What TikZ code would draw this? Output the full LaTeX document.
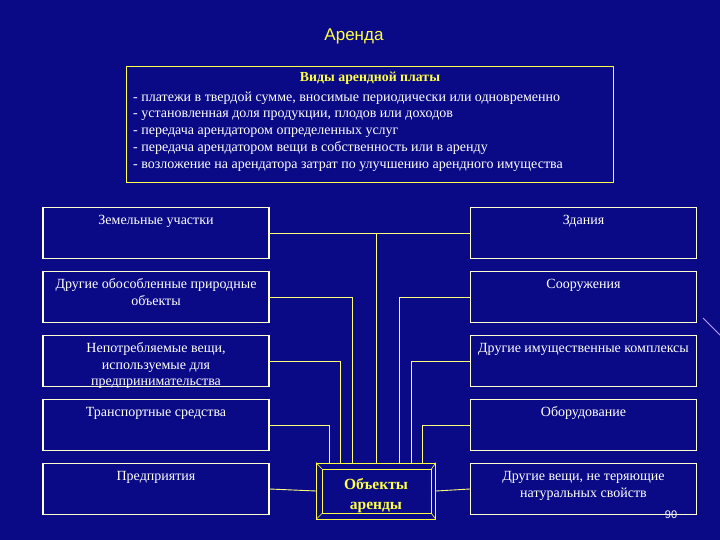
\documentclass[tikz,border=0pt]{standalone}
\usepackage{fontspec}
\setmainfont{Liberation Serif}
\newfontfamily\sansf{Liberation Sans}
\definecolor{bgblue}{RGB}{10,10,135}
\definecolor{boxline}{RGB}{255,255,205}
\definecolor{connc}{RGB}{255,255,120}
\definecolor{ylw}{RGB}{255,255,70}
\definecolor{decor}{RGB}{190,160,255}
\tikzset{
  objbox/.style={draw=boxline, line width=1.1pt, minimum width=226pt, minimum height=51.5pt, inner sep=0pt},
  boxtxt/.style={anchor=north, inner sep=0pt, align=center, text=white, font=\fontsize{14}{16.5}\selectfont},
  conn/.style={draw=connc, line width=0.9pt},
  bev/.style={draw=ylw, line width=0.9pt}
}
\begin{document}
\begin{tikzpicture}[x=1pt,y=-1pt]
\useasboundingbox (0,0) rectangle (720,540);
\fill[bgblue] (0,0) rectangle (720,540);
\draw[decor, line width=0.8pt] (703,318) -- (722,337);

% title
\node[anchor=base, inner sep=0pt, text=ylw, font=\sansf\fontsize{17}{20}\selectfont] (title) at (354,41) {Аренда};

% top box
\node[draw=ylw, line width=1pt, minimum width=487pt, minimum height=116pt, inner sep=0pt] (top) at (369.5,125) {};
\node[anchor=base, inner sep=0pt, text=ylw, font=\bfseries\fontsize{13.8}{16}\selectfont] (hdr) at (370,82) {Виды арендной платы};
\node[anchor=north west, inner sep=0pt, align=left, text=white, font=\fontsize{14}{16.8}\selectfont] (lst) at (133,89.2)
 {\strut- платежи в твердой сумме, вносимые периодически или одновременно\\
  - установленная доля продукции, плодов или доходов\\
  - передача арендатором определенных услуг\\
  - передача арендатором вещи в собственность или в аренду\\
  - возложение на арендатора затрат по улучшению арендного имущества};

% left boxes
\node[objbox] (l1) at (156,233) {};
\node[objbox] (l2) at (156,297) {};
\node[objbox] (l3) at (156,361) {};
\node[objbox] (l4) at (156,425) {};
\node[objbox] (l5) at (156,489) {};
% right boxes
\node[objbox] (r1) at (583.5,233) {};
\node[objbox] (r2) at (583.5,297) {};
\node[objbox] (r3) at (583.5,361) {};
\node[objbox] (r4) at (583.5,425) {};
\node[objbox] (r5) at (583.5,489) {};

\node[boxtxt] (t1) at ([yshift=-6.5pt]l1.north) {\strut Земельные участки};
\node[boxtxt] (t2) at ([yshift=-6.5pt]l2.north) {\strut Другие обособленные природные\\объекты};
\node[boxtxt] (t3) at ([yshift=-6.5pt]l3.north) {\strut Непотребляемые вещи,\\используемые для\\предпринимательства};
\node[boxtxt] (t4) at ([yshift=-6.5pt]l4.north) {\strut Транспортные средства};
\node[boxtxt] (t5) at ([yshift=-6.5pt]l5.north) {\strut Предприятия};
\node[boxtxt] (u1) at ([yshift=-6.5pt]r1.north) {\strut Здания};
\node[boxtxt] (u2) at ([yshift=-6.5pt]r2.north) {\strut Сооружения};
\node[boxtxt] (u3) at ([yshift=-6.5pt]r3.north) {\strut Другие имущественные комплексы};
\node[boxtxt] (u4) at ([yshift=-6.5pt]r4.north) {\strut Оборудование};
\node[boxtxt] (u5) at ([yshift=-6.5pt]r5.north) {\strut Другие вещи, не теряющие\\натуральных свойств};

% center box
\node[bev, minimum width=119pt, minimum height=56pt, inner sep=0pt] (c) at (376,491) {};
\coordinate (ci1) at ([shift={(6pt,-6.5pt)}]c.north west);
\coordinate (ci2) at ([shift={(-4.5pt,-6.5pt)}]c.north east);
\coordinate (ci3) at ([shift={(-4.5pt,6pt)}]c.south east);
\coordinate (ci4) at ([shift={(6pt,6pt)}]c.south west);
\draw[bev] (ci1) -- (ci2) -- (ci3) -- (ci4) -- cycle;
\draw[bev, line width=0.6pt] (c.north west) -- (ci1) (c.north east) -- (ci2) (c.south east) -- (ci3) (c.south west) -- (ci4);
\node[align=center, inner sep=0pt, text=ylw, font=\bfseries\fontsize{15.5}{20}\selectfont] (ctxt) at (376,496) {Объекты\\аренды};

% connectors
\draw[conn] (l1.east) -- (r1.west);
\draw[conn] (c.north) -- (c.north |- l1.east);
\draw[conn] (l2.east) -| ([xshift=-24pt]c.north);
\draw[conn] (l3.east) -| ([xshift=-35.5pt]c.north);
\draw[conn] (l4.east) -| ([xshift=-47pt]c.north);
\draw[conn] (r2.west) -| ([xshift=23pt]c.north);
\draw[conn] (r3.west) -| ([xshift=35.5pt]c.north);
\draw[conn] (r4.west) -| ([xshift=46.5pt]c.north);
\draw[conn] (l5.east) -- (c.west);
\draw[conn] (c.east) -- (r5.west);

\node[inner sep=0pt, text=white, font=\sansf\fontsize{11}{13}\selectfont] (pg) at (671,515) {90};
\end{tikzpicture}
\end{document}
